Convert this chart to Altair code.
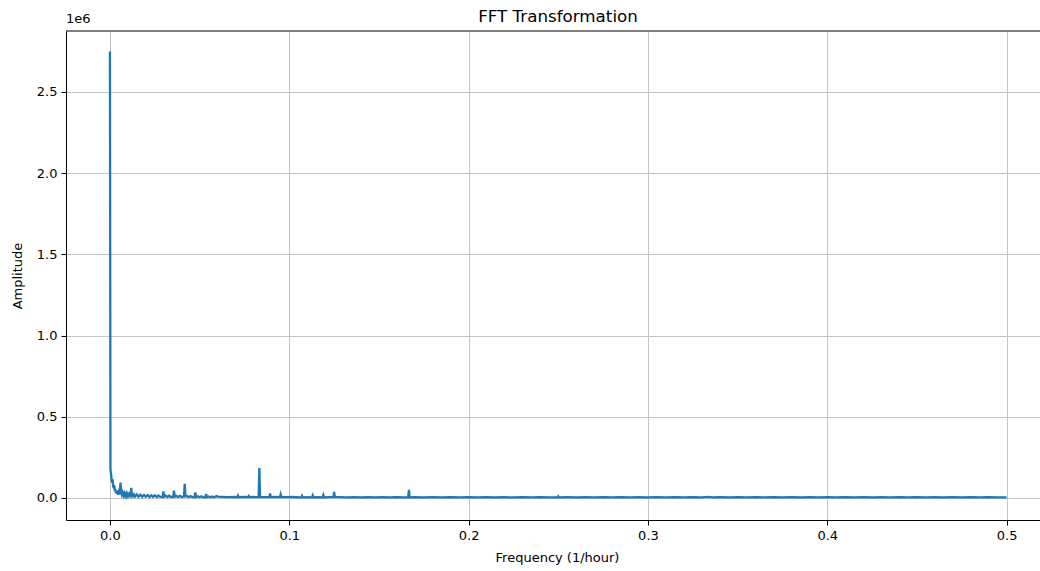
import altair as alt
import pandas as pd

# Low-frequency region (DC peak, decay, weekly harmonics)
low_freq = [0.0, 0.0003, 0.0006, 0.0009, 0.0012, 0.0015, 0.0018, 0.0021, 0.0024, 0.0027,
            0.0030, 0.0033, 0.0036, 0.0039, 0.0042, 0.0045, 0.0048, 0.0052, 0.0056, 0.0059,
            0.0062, 0.0066, 0.0070, 0.0075, 0.0080, 0.0085, 0.0090, 0.0095, 0.0100, 0.0105,
            0.0110, 0.0115, 0.0119, 0.0123, 0.0128]
low_amp = [2750000, 175000, 150000, 120000, 95000, 115000, 70000, 65000, 80000, 45000,
           55000, 30000, 45000, 25000, 38000, 20000, 35000, 22000, 50000, 95000,
           40000, 22000, 35000, 15000, 30000, 12000, 28000, 10000, 26000, 12000,
           25000, 15000, 62000, 15000, 10000]

# Mid region 0.013 - 0.06 (daily harmonics on noise floor)
mid_freq = [0.0134, 0.014, 0.015, 0.016, 0.017, 0.018, 0.019, 0.020, 0.021, 0.022,
            0.023, 0.024, 0.025, 0.026, 0.027, 0.028, 0.0294, 0.0298, 0.0302, 0.031,
            0.032, 0.033, 0.034, 0.0353, 0.0357, 0.0361, 0.037, 0.038, 0.039, 0.040,
            0.0413, 0.0417, 0.0421, 0.043, 0.044, 0.045, 0.046, 0.0472, 0.0476, 0.0480,
            0.049, 0.050, 0.051, 0.052, 0.0532, 0.0536, 0.0540, 0.055, 0.056, 0.057,
            0.058, 0.0595, 0.060]
mid_amp = [22000, 9000, 22000, 8000, 20000, 7000, 19000, 8000, 18000, 6000,
           17000, 7000, 17000, 6000, 15000, 7000, 8000, 40000, 8000, 15000,
           6000, 14000, 6000, 8000, 45000, 8000, 13000, 5000, 13000, 6000,
           10000, 88000, 10000, 12000, 5000, 12000, 5000, 6000, 35000, 6000,
           11000, 5000, 11000, 4000, 5000, 25000, 5000, 9000, 4000, 9000,
           4000, 12000, 8000]

# Region 0.06 - 0.2
high_freq = [0.065, 0.070, 0.0710, 0.0714, 0.0718, 0.075, 0.0770, 0.0774, 0.0778, 0.080,
             0.0829, 0.0833, 0.0837, 0.086, 0.0889, 0.0893, 0.0897, 0.092, 0.0948, 0.0952,
             0.0956, 0.098, 0.102, 0.106, 0.1067, 0.1071, 0.1075, 0.110, 0.1127, 0.1131,
             0.1135, 0.116, 0.1186, 0.1190, 0.1194, 0.122, 0.1246, 0.1250, 0.1254, 0.128,
             0.132, 0.136, 0.140, 0.144, 0.148, 0.152, 0.156, 0.160, 0.164, 0.1663,
             0.1667, 0.1671, 0.170, 0.175, 0.180, 0.185, 0.190, 0.195]
high_amp = [5000, 6000, 5000, 15000, 5000, 6000, 5000, 12000, 5000, 6000,
            5000, 185000, 5000, 5000, 5000, 28000, 5000, 6000, 5000, 22000,
            5000, 5000, 6000, 4000, 4000, 14000, 4000, 5000, 4000, 16000,
            4000, 5000, 4000, 18000, 4000, 5000, 5000, 38000, 5000, 5000,
            4000, 5000, 4000, 5000, 4000, 5000, 4000, 5000, 4000, 4000,
            50000, 4000, 5000, 4000, 5000, 4000, 5000, 4000]

# Region 0.2 - 0.5 (flat noise floor)
tail_freq = [0.200, 0.205, 0.210, 0.215, 0.220, 0.225, 0.230, 0.235, 0.240,
             0.245, 0.2496, 0.2500, 0.2504, 0.255, 0.260, 0.265, 0.270, 0.275, 0.280,
             0.285, 0.290, 0.295, 0.300, 0.305, 0.310, 0.315, 0.320, 0.325, 0.330,
             0.3333, 0.336, 0.340, 0.345, 0.350, 0.355, 0.360, 0.365, 0.370, 0.375,
             0.380, 0.385, 0.390, 0.395, 0.400, 0.405, 0.410, 0.415, 0.420, 0.425,
             0.430, 0.435, 0.440, 0.445, 0.450, 0.455, 0.460, 0.465, 0.470, 0.475,
             0.480, 0.485, 0.490, 0.495, 0.500]
tail_amp = [4500, 3500, 4500, 3500, 4500, 3500, 4500, 3500, 4500,
            3500, 3500, 10000, 3500, 4500, 3500, 4500, 3500, 4500, 3500,
            4500, 3500, 4500, 3500, 4500, 3500, 4500, 3500, 4500, 3500,
            7000, 3500, 4500, 3500, 4500, 3500, 4500, 3500, 4500, 3500,
            4500, 3500, 4500, 3500, 4500, 3500, 4500, 3500, 4500, 3500,
            4500, 3500, 4500, 3500, 4500, 3500, 4500, 3500, 4500, 3500,
            4500, 3500, 4500, 3500, 4000]

x_ticks = [0.0, 0.1, 0.2, 0.3, 0.4, 0.5]
y_ticks = [0, 500000, 1000000, 1500000, 2000000, 2500000]

df = pd.DataFrame({
    "freq": low_freq + mid_freq + high_freq + tail_freq,
    "amp": low_amp + mid_amp + high_amp + tail_amp,
})

FONT = "DejaVu Sans"
GRID = "#c4c4c4"

line = alt.Chart(df).mark_line(color="#1f77b4", strokeWidth=2.3, clip=True).encode(
    x=alt.X("freq:Q",
            scale=alt.Scale(domain=[-0.0245, 0.5186], nice=False, zero=False),
            axis=alt.Axis(values=x_ticks, format=".1f", title="Frequency (1/hour)",
                          grid=True, gridColor=GRID, gridWidth=1,
                          tickSize=5, labelPadding=4, titlePadding=9,
                          titleX=491, titleAlign="center")),
    y=alt.Y("amp:Q",
            scale=alt.Scale(domain=[-135500, 2875600], nice=False, zero=False),
            axis=alt.Axis(values=y_ticks, labelExpr="format(datum.value / 1000000, '.1f')",
                          title="Amplitude", grid=True, gridColor=GRID, gridWidth=1,
                          tickSize=5, labelPadding=4, titlePadding=12)),
)

top_spine = alt.Chart(alt.Data(values=[{}])).mark_rule(color="black", strokeWidth=1).encode(
    x=alt.value(0), x2=alt.value(974), y=alt.value(0)
)

offset_text = alt.Chart(alt.Data(values=[{}])).mark_text(
    text="1e6", align="left", baseline="alphabetic", fontSize=13, font=FONT, color="black"
).encode(x=alt.value(0), y=alt.value(-8))

title_text = alt.Chart(alt.Data(values=[{}])).mark_text(
    text="FFT Transformation", align="center", baseline="alphabetic", fontSize=16.7,
    font=FONT, color="black"
).encode(x=alt.value(492), y=alt.value(-9))

chart = alt.layer(line, top_spine, offset_text, title_text).properties(
    width=974,
    height=489,
    padding={"left": 66, "top": 31, "right": 0, "bottom": 51},
    autosize="none",
).configure_view(stroke=None).configure_axis(
    labelFont=FONT, titleFont=FONT, labelFontSize=13, titleFontSize=13,
    titleFontWeight="normal", labelColor="black", titleColor="black",
    domainColor="black", tickColor="black", domainWidth=1, tickWidth=1,
)

chart.save("out.html", embed_options={"renderer": "svg", "actions": False})
